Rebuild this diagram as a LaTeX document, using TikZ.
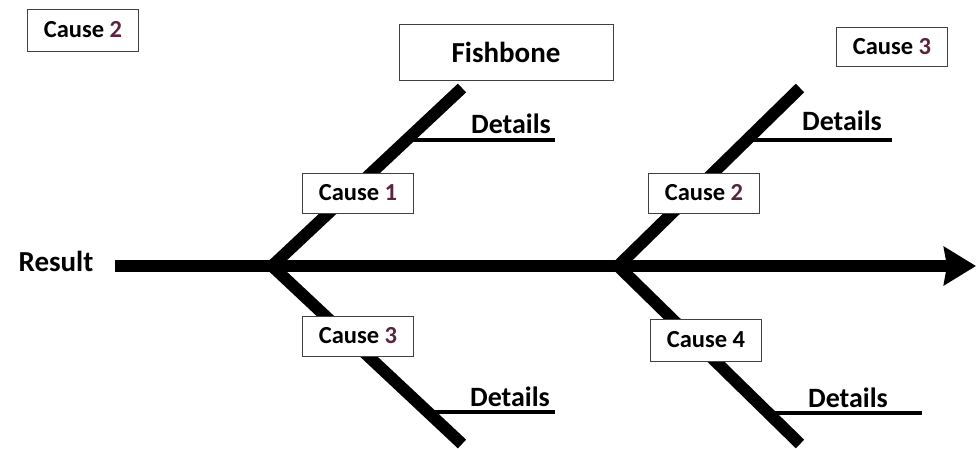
\documentclass[tikz,border=0pt]{standalone}
\usepackage{fontspec}
\setmainfont{Carlito}
\usetikzlibrary{arrows.meta}
\definecolor{numcol}{HTML}{5A2440}
\begin{document}
\begin{tikzpicture}[x=1pt, y=-1pt, font=\bfseries\fontsize{24.5}{28}\selectfont,
	box/.style={draw=black!75, line width=1pt, fill=white, minimum width=111pt, minimum height=40pt, inner sep=0pt},
	detail/.style={font=\bfseries\fontsize{28}{32}\selectfont},
	bone/.style={line width=12pt, line join=miter, line cap=butt},
	twig/.style={line width=4pt, line cap=butt}]
	\useasboundingbox (0, 0) rectangle (976, 448);

	% spine and bones
	\coordinate (tail) at (115, 266);
	\coordinate (head) at (976, 266);
	\coordinate (j1) at (272, 266);
	\coordinate (j2) at (618, 266);
	\coordinate (u1) at (462, 88);
	\coordinate (l1) at (462, 444);
	\coordinate (u2) at (800, 88);
	\coordinate (l2) at (800, 444);
	\draw[bone] (u1) -- (j1) -- (l1);
	\draw[bone] (u2) -- (j2) -- (l2);
	\draw[line width=12pt, -{Stealth[length=32pt, width=38pt, inset=3pt]}] (tail) -- (head);

	% details
	\coordinate (d1) at (406, 140);
	\coordinate (d1e) at (555, 140);
	\coordinate (d2) at (428, 412);
	\coordinate (d2e) at (555, 412);
	\coordinate (d3) at (752, 140);
	\coordinate (d3e) at (892, 140);
	\coordinate (d4) at (775, 413);
	\coordinate (d4e) at (922, 413);
	\draw[twig] (d1) -- (d1e);
	\draw[twig] (d2) -- (d2e);
	\draw[twig] (d3) -- (d3e);
	\draw[twig] (d4) -- (d4e);
	\node[detail] (dt1) at (511, 124) {Details};
	\node[detail] (dt2) at (510, 397) {Details};
	\node[detail] (dt3) at (842, 121) {Details};
	\node[detail] (dt4) at (848, 398) {Details};

	% labels
	\node[font=\bfseries\fontsize{29}{32}\selectfont] (result) at (56, 261) {Result};
	\node[box, minimum width=214pt, minimum height=56pt, font=\bfseries\fontsize{29}{32}\selectfont] (title) at (506, 52) {Fishbone};
	\node[box] (c1) at (358, 193) {Cause \textcolor{numcol}{1}};
	\node[box] (c3) at (358, 336) {Cause \textcolor{numcol}{3}};
	\node[box] (c2) at (704, 193) {Cause \textcolor{numcol}{2}};
	\node[box, minimum height=42pt] (c4) at (706, 340) {Cause 4};
	\node[box, minimum height=42pt] (tc2) at (83, 30) {Cause \textcolor{numcol}{2}};
	\node[box, minimum height=39pt] (tc3) at (892, 47) {Cause \textcolor{numcol}{3}};
\end{tikzpicture}
\end{document}
